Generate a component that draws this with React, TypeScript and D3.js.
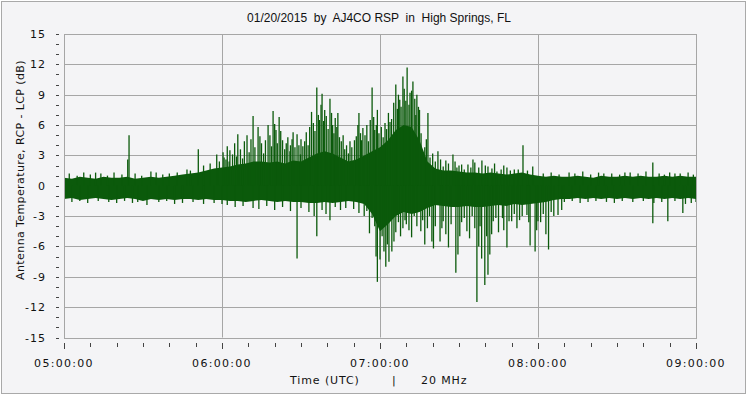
import * as d3 from 'd3';

// minutes after 05:00 UTC
const bandMinutes = [
  0, 3, 6, 9, 12, 15, 18, 21, 24, 27, 30, 33, 36, 39, 42, 45, 48, 51, 54, 57,
  60, 63, 66, 69, 72, 75, 78, 81, 84, 87, 90, 93, 96, 99, 102, 105, 108, 111, 114, 117,
  120, 123, 126, 129, 132, 135, 138, 141, 144, 147, 150, 153, 156, 159, 162, 165, 168, 171, 174, 177,
  180, 183, 186, 189, 192, 195, 198, 201, 204, 207, 210, 213, 216, 219, 222, 225, 228, 231, 234, 237, 240,
];

// upper / lower edge of the dense noise band (dB)
const bandHigh = [
  0.8, 0.7, 0.9, 0.8, 0.7, 0.9, 0.8, 0.8, 0.9, 0.7, 0.8, 0.9, 0.8, 0.9, 1.0, 1.1,
  1.2, 1.3, 1.5, 1.7,
  1.8, 1.9, 2.1, 2.2, 2.4, 2.4, 2.3, 2.4, 2.2, 2.5,
  2.4, 2.8, 3.2, 3.4, 3.2, 2.8, 2.4, 2.6, 3.0, 3.4,
  3.8, 4.5, 5.5, 6.0, 5.8, 4.5, 2.4,
  1.7, 1.5, 1.5, 1.4, 1.3, 1.3, 1.2, 1.3, 1.2, 1.1, 1.2, 1.3, 1.1,
  1.0, 0.9, 1.0, 0.9, 0.9, 1.0, 0.9, 0.8, 1.0, 0.9, 0.9, 1.0, 0.9, 1.0, 0.9, 0.9, 1.0, 0.9, 1.0, 0.9, 0.9,
];

const bandLow = [
  -1.3, -1.2, -1.4, -1.3, -1.2, -1.3, -1.4, -1.3, -1.2, -1.3, -1.5, -1.3, -1.4, -1.3, -1.4, -1.3,
  -1.3, -1.4, -1.3, -1.4,
  -1.4, -1.5, -1.5, -1.6, -1.5, -1.4, -1.5, -1.6, -1.5, -1.6,
  -1.6, -1.7, -1.7, -1.6, -1.7, -1.6, -1.5, -1.6, -1.8, -2.8,
  -4.5, -3.8, -3.0, -2.6, -2.8, -2.6, -2.2,
  -1.9, -2.0, -2.1, -2.1, -2.0, -2.1, -2.1, -2.0, -1.9, -2.0, -1.8, -1.9, -1.8,
  -1.7, -1.6, -1.4, -1.3, -1.3, -1.2, -1.3, -1.2, -1.3, -1.2, -1.3, -1.2, -1.3, -1.2, -1.3, -1.2, -1.3, -1.2, -1.3, -1.2, -1.3,
];

// individual spikes: [minute, dB]
const spikesUp = [
  [12, 1.3], [24.2, 2.6], [24.7, 5.0], [33, 1.4], [46.7, 1.6], [51, 3.6], [53, 2.0], [55.5, 2.2],
  [58, 3.1], [59, 2.4], [60.4, 3.3], [61.5, 2.6],
  [60.8, 2.8], [62, 3.9], [62.7, 2.4], [63, 3.5], [64, 3.1], [64.8, 4.2], [65.5, 2.9], [66, 5.1],
  [67, 3.6], [67.8, 2.7], [68.5, 4.4], [69.5, 5.0], [70.3, 3.3], [71, 4.6], [71.8, 6.9], [72.5, 3.8],
  [73.7, 5.8], [74.4, 4.9], [75, 4.2], [75.8, 3.2], [76.5, 4.5], [77.5, 6.0], [78.2, 5.0], [78.8, 3.9],
  [79.4, 7.4], [80, 6.1], [80.5, 5.5], [81, 4.2], [81.7, 6.8], [82.3, 5.4], [83, 4.5], [83.8, 3.6],
  [84.4, 4.2], [85, 4.8], [85.8, 3.4], [86, 4.0], [86.6, 4.6], [87, 5.3], [87.7, 3.8], [88.5, 5.1],
  [89.2, 4.0], [89.8, 3.1], [90, 4.6],
  [90.7, 3.9], [91.4, 4.4], [92, 5.3], [92.7, 4.0], [93.3, 5.8], [94, 7.3], [94.7, 6.2], [95.3, 5.4],
  [96, 9.7], [96.6, 7.0], [97, 6.5], [97.6, 8.0], [98, 9.1], [98.6, 6.4], [99, 7.5], [99.6, 6.9],
  [100.3, 5.6], [101, 8.6], [101.6, 7.2], [102, 6.0], [102.5, 5.2], [103, 6.7], [103.6, 5.8], [104, 7.2],
  [104.6, 4.8], [105.3, 4.4], [106, 5.0], [106.6, 3.6], [107.3, 4.0], [108, 3.2], [108.6, 4.4],
  [109.3, 3.8], [110.3, 4.5], [111, 4.9], [111.6, 6.0], [112, 7.2], [112.6, 5.2], [113, 4.5],
  [113.5, 5.7], [114.3, 5.0], [115, 6.0], [115.6, 4.4], [116.3, 6.5], [117, 9.7], [117.6, 6.8],
  [118, 5.5], [118.6, 6.0], [119, 7.5], [119.6, 5.2],
  [120.5, 5.8], [121.2, 4.8], [121.9, 6.2], [122.5, 5.6], [123.2, 7.2], [123.8, 6.3], [124.4, 6.6],
  [125.2, 8.2], [126, 10.0], [126.6, 7.6], [127, 9.0], [127.5, 8.5], [128, 7.8], [128.7, 10.8],
  [129.2, 9.6], [129.8, 8.4], [130.3, 11.7], [131, 8.0], [131.4, 9.2], [132, 9.4], [132.5, 10.3],
  [133.2, 8.6], [133.6, 7.0], [134, 9.0], [134.6, 7.8], [135, 7.5], [135.6, 5.2], [136.3, 3.1],
  [137, 3.8], [137.6, 4.6], [138.2, 7.2], [139, 2.8], [140, 3.2],
  [141, 2.4], [142, 3.4], [143, 2.6], [144, 1.9], [145, 2.5], [146, 2.2], [147.7, 3.1], [148.5, 2.4],
  [149.2, 1.8], [150, 2.0], [151, 2.1], [152, 1.6], [153.4, 2.1], [154.5, 1.8], [155.3, 2.6],
  [156, 2.3], [157.5, 1.8], [158.7, 2.5], [160, 2.0], [161, 1.9], [162.5, 1.7], [163.5, 2.2],
  [164.4, 1.4], [166, 1.6], [167, 2.0], [168.2, 1.8], [169.5, 1.5], [171, 1.6], [172.5, 1.6],
  [174.3, 4.0], [176, 1.5], [178, 1.9],
  [191.8, 1.3], [205, 1.2], [215, 1.3], [223.6, 2.3], [232, 1.2],
];

const spikesDown = [
  [20, -1.7], [31.5, -1.9], [42, -1.8], [60, -1.8], [62, -1.9], [65, -2.1], [68, -2.0],
  [71.8, -2.2], [74, -2.3], [77, -2.0], [80, -2.4], [83, -2.1], [86, -2.5], [88.5, -7.2],
  [90, -2.2], [93, -2.6], [95, -3.0], [96, -5.0], [98, -2.4], [99.5, -2.8], [101, -3.4], [103, -2.1],
  [105, -2.4], [107, -2.2], [110, -2.3], [112, -2.7], [114, -3.0], [115, -2.5], [116, -4.7], [117, -3.2],
  [118, -4.0], [118.5, -7.0], [119, -9.5], [120, -7.3], [120.8, -5.0], [121.5, -6.5], [122.2, -8.0],
  [122.8, -5.8], [123.4, -7.5], [124.5, -6.5], [125.3, -5.5], [126, -4.6], [127, -3.6], [127.8, -5.0],
  [128.7, -4.2], [129.5, -3.4], [130, -3.8], [131, -4.4], [132, -5.1], [133, -3.0], [134, -4.0],
  [135.5, -4.5], [136.2, -3.4], [137, -5.8], [138, -4.2], [138.8, -3.0], [139.7, -5.5], [140.3, -6.2],
  [141, -4.0], [142.8, -5.5], [143.5, -4.2], [144, -3.5], [145, -4.8], [146, -6.1], [147, -3.8],
  [148.8, -8.6], [149.6, -6.8], [150.3, -5.0], [151, -3.6], [152, -3.2], [153, -4.5], [154, -5.2],
  [155, -3.0], [156, -4.2], [156.8, -11.5], [157.5, -6.0], [158, -4.0], [158.6, -7.2], [159.8, -9.8],
  [160.5, -5.0], [161, -8.8], [161.7, -6.8], [162.4, -4.8], [163, -3.5], [164, -3.2], [165, -4.6],
  [166.5, -3.2], [167, -4.4], [168.2, -6.1], [169, -3.5], [170, -3.5], [171, -2.8], [172, -4.2],
  [173, -3.4], [174, -3.0], [175.8, -2.9], [176.5, -3.6], [177, -5.9], [178.9, -6.5], [179.5, -4.4],
  [180, -3.5], [181, -3.6], [182, -2.8], [183, -4.8], [184, -6.3], [185, -2.6], [186, -3.0],
  [187.6, -2.9], [189, -2.4],
  [223.6, -3.7], [229.3, -3.5], [235, -2.7], [238.2, -1.7],
];

// fine fringe on the quiet parts of the band: [minute, dB]
const hairsUp = [
  [2, 1.2], [5, 1.0], [7.5, 1.3], [10, 1.1], [14, 1.2], [16.5, 1.0], [19, 1.3], [22, 1.1],
  [27, 1.2], [29.5, 1.0], [35, 1.3], [37.5, 1.1], [40, 1.2], [43, 1.3], [48, 1.5],
  [182, 1.2], [185, 1.3], [188, 1.1], [194, 1.2], [197, 1.4], [200, 1.1], [203, 1.3], [208, 1.2],
  [211, 1.1], [213, 1.3], [218, 1.2], [221, 1.4], [226, 1.2], [228, 1.1], [230, 1.3], [234, 1.2],
  [237, 1.3], [239, 1.1],
];

const hairsDown = [
  [3, -1.6], [6, -1.5], [9, -1.7], [13, -1.5], [17, -1.6], [23, -1.5], [26, -1.7], [28, -1.6],
  [36, -1.6], [39, -1.5], [45, -1.7], [49, -1.6], [53, -1.8], [57, -1.7],
  [190, -1.6], [193, -1.5], [196, -1.7], [199, -1.6], [202, -1.5], [206, -1.6], [209, -1.7],
  [212, -1.5], [216, -1.6], [220, -1.5], [224, -1.7], [227, -1.6], [232, -1.5], [236, -1.8], [240, -1.6],
];

const hourMinutes = [0, 60, 120, 180, 240];
const hourLabels = ['05:00:00', '06:00:00', '07:00:00', '08:00:00', '09:00:00'];
const yTicks = [15, 12, 9, 6, 3, 0, -3, -6, -9, -12, -15];

const W = 747;
const H = 396;
const plot = { left: 64, right: 696, top: 34, bottom: 337.5 };
const green = '#0b5a0b';
const grid = '#a6a6a6';
const font = 'DejaVu Sans';

export default function App() {
  const x = d3.scaleLinear().domain([0, 240]).range([plot.left, plot.right]);
  const y = d3.scaleLinear().domain([-15, 15]).range([plot.bottom, plot.top]);

  const band = d3
    .area<number>()
    .x((_, i) => x(bandMinutes[i]))
    .y0((_, i) => y(bandLow[i]))
    .y1((_, i) => y(bandHigh[i]));

  const minorX = d3.range(0, 241, 10);
  const minorY = d3.range(-15, 16, 1);
  const px = (v: number) => Math.round(v) + 0.5;
  const allSpikes = [...spikesUp, ...spikesDown, ...hairsUp, ...hairsDown];

  return (
    <div style={{ position: 'absolute', left: 0, top: 0 }}>
      <svg width={W} height={H} style={{ display: 'block', background: '#ffffff' }}>
        <rect x={1.5} y={1.5} width={744} height={392} fill="#f4f4f6" stroke="#a9a9a9" />

        <text
          x={379}
          y={22}
          textAnchor="middle"
          style={{ fontFamily: 'Liberation Sans', fontSize: 12, whiteSpace: 'pre' }}
          fill="#111"
        >
          {'01/20/2015  by  AJ4CO RSP  in  High Springs, FL'}
        </text>

        {/* grid */}
        {yTicks.map((t) => (
          <line key={'gy' + t} x1={plot.left} x2={plot.right} y1={px(y(t))} y2={px(y(t))} stroke={grid} />
        ))}
        {hourMinutes.map((m) => (
          <line key={'gx' + m} x1={px(x(m))} x2={px(x(m))} y1={plot.top} y2={plot.bottom} stroke={grid} />
        ))}

        {/* data */}
        <path d={band(bandMinutes) || ''} fill={green} />
        <g stroke={green} strokeWidth={1.3}>
          {allSpikes.map(([m, v], i) => (
            <line key={'s' + i} x1={x(m)} x2={x(m)} y1={y(0)} y2={y(v)} />
          ))}
        </g>

        <rect
          x={plot.left + 0.5}
          y={px(plot.top)}
          width={plot.right - plot.left}
          height={px(plot.bottom) - px(plot.top)}
          fill="none"
          stroke={grid}
        />

        {/* y ticks */}
        {minorY.map((t) => (
          <line key={'ty' + t} x1={56} x2={59} y1={px(y(t))} y2={px(y(t))} stroke="#444" />
        ))}
        {yTicks.map((t) => (
          <text
            key={'ly' + t}
            x={46}
            y={y(t) + 4}
            textAnchor="end"
            style={{ fontFamily: font, fontSize: 11, letterSpacing: 1 }}
            fill="#111"
          >
            {t}
          </text>
        ))}

        {/* x ticks */}
        {minorX.map((m) => (
          <line
            key={'tx' + m}
            x1={px(x(m))}
            x2={px(x(m))}
            y1={343}
            y2={m % 60 === 0 ? 349 : 347}
            stroke="#444"
          />
        ))}
        {hourMinutes.map((m, i) => (
          <text
            key={'lx' + m}
            x={x(m)}
            y={367}
            textAnchor="middle"
            style={{ fontFamily: font, fontSize: 11, letterSpacing: 1.3 }}
            fill="#111"
          >
            {hourLabels[i]}
          </text>
        ))}

        <text x={290} y={384} style={{ fontFamily: font, fontSize: 11, letterSpacing: 0.9 }} fill="#111">
          Time (UTC)
        </text>
        <text x={392} y={384} style={{ fontFamily: font, fontSize: 11 }} fill="#111">
          |
        </text>
        <text x={421} y={384} style={{ fontFamily: font, fontSize: 11, letterSpacing: 0.9 }} fill="#111">
          20 MHz
        </text>

        <text
          transform="translate(24,170) rotate(-90)"
          textAnchor="middle"
          style={{ fontFamily: font, fontSize: 11, letterSpacing: 0.4 }}
          fill="#111"
        >
          Antenna Temperature, RCP - LCP (dB)
        </text>
      </svg>
    </div>
  );
}
